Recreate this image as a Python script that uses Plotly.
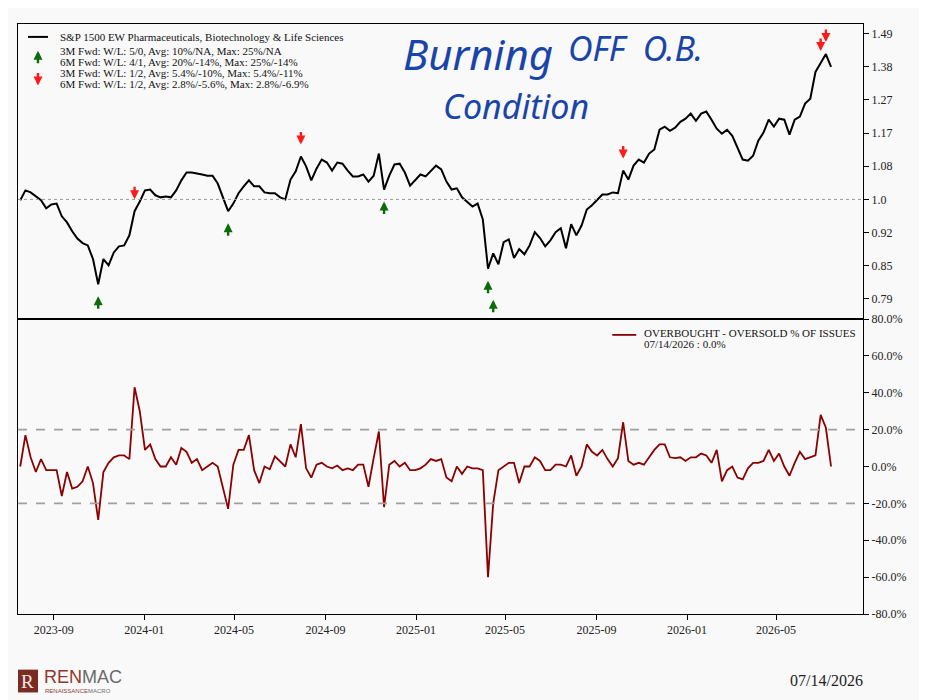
import numpy as np
import pandas as pd
import plotly.graph_objects as go
from plotly.subplots import make_subplots

# ---------------- data (weekly samples) ----------------
END_DATE = "2026-07-14"

price_values = [
    0.998, 1.022, 1.017, 1.007, 0.998, 0.979, 0.988, 0.990, 0.960, 0.946,
    0.926, 0.910, 0.900, 0.895, 0.866, 0.815, 0.866, 0.853, 0.880, 0.893,
    0.895, 0.917, 0.972, 0.995, 1.022, 1.024, 1.010, 1.005, 1.007, 1.005,
    1.022, 1.047, 1.067, 1.067, 1.065, 1.062, 1.059, 1.059, 1.039, 1.007,
    0.972, 0.990, 1.015, 1.032, 1.047, 1.032, 1.032, 1.017, 1.015, 1.015,
    1.005, 1.000, 1.049, 1.070, 1.109, 1.083, 1.047, 1.077, 1.101, 1.093,
    1.072, 1.093, 1.090, 1.072, 1.057, 1.057, 1.062, 1.044, 1.059, 1.117,
    1.024, 1.059, 1.088, 1.090, 1.067, 1.034, 1.047, 1.062, 1.057, 1.072,
    1.085, 1.075, 1.044, 1.024, 1.027, 1.005, 0.995, 0.983, 0.990, 0.953,
    0.846, 0.878, 0.855, 0.902, 0.908, 0.868, 0.887, 0.876, 0.895, 0.924,
    0.911, 0.893, 0.906, 0.924, 0.933, 0.889, 0.942, 0.917, 0.939, 0.976,
    0.986, 1.000, 1.012, 1.012, 1.017, 1.015, 1.072, 1.049, 1.085, 1.101,
    1.093, 1.117, 1.128, 1.183, 1.192, 1.180, 1.189, 1.206, 1.215, 1.230,
    1.209, 1.230, 1.236, 1.212, 1.186, 1.172, 1.183, 1.166, 1.131, 1.101,
    1.098, 1.111, 1.152, 1.175, 1.212, 1.192, 1.215, 1.212, 1.169, 1.212,
    1.221, 1.260, 1.275, 1.360, 1.390, 1.420, 1.377,
]

obos_values = [
    0, 17, 5, -3, 4, -2, -2, -2, -16, -3,
    -12, -11, -8, 0, -9, -29, -3, 2, 5, 6,
    6, 4, 43, 30, 9, 12, 4, 0, 0, 5,
    1, 10, 8, 2, 4, -2, 0, 2, 0, -12,
    -23, 1, 9, 9, 17, -2, -9, 0, -1.5, 5.5,
    3, 0, 12, 5, 23, -1, -6, 1, 2, 0,
    -1, 0.5, -2, -1, -2, 1, 1, -11, 4.5, 19,
    -22, 1, 3, 0, 2, -2, -2, -1, 1, 4,
    3, 4, -6, -8, 0, -4, 0, -1, -1, -2,
    -60, -20, -2, 0, 2, 2, -9, 0, 0, 5,
    3, -2, -2, 1, 1, 0, 6, -5, 0, 12,
    8, 6, 9, 4, 0, 4.5, 24, 3, 1, 2,
    1, 5, 9, 12, 12, 5, 4.5, 5, 3, 5,
    5, 7, 6, 2, 9, -8, -2, 0, -6, -7,
    -1, 2, 2, 3, 9, 3, 7, 0, -5, 2,
    8, 4, 5, 6, 28, 21, 0,
]

buy_dates = ["2023-10-31", "2024-04-23", "2024-11-19", "2025-04-08", "2025-04-15"]
sell_dates = ["2023-12-19", "2024-07-30", "2025-10-07", "2026-06-30", "2026-07-07"]

price_tick_labels = ["0.79", "0.85", "0.92", "1.0", "1.08", "1.17", "1.27", "1.38", "1.49"]
price_tick_steps = [-3, -2, -1, 0, 1, 2, 3, 4, 5]
obos_ticks = [-80, -60, -40, -20, 0, 20, 40, 60, 80]
obos_bands = [20, -20]

series_name = "S&P 1500 EW Pharmaceuticals, Biotechnology & Life Sciences"
obos_name = "OVERBOUGHT - OVERSOLD % OF ISSUES"
up_lines = ["3M Fwd: W/L: 5/0, Avg: 10%/NA, Max: 25%/NA",
            "6M Fwd: W/L: 4/1, Avg: 20%/-14%, Max: 25%/-14%"]
down_lines = ["3M Fwd: W/L: 1/2, Avg: 5.4%/-10%, Max: 5.4%/-11%",
              "6M Fwd: W/L: 1/2, Avg: 2.8%/-5.6%, Max: 2.8%/-6.9%"]

# ---------------- build ----------------
dates = pd.date_range(end=END_DATE, periods=len(price_values), freq="7D")
price = pd.Series(price_values, index=dates)
obos = pd.Series(obos_values, index=dates)

OFF = 8                      # page body margin
W, H = 927, 700
ML, MR, MT, MB = 9, 72, 12, 94
PW, PH = W - ML - MR, H - MT - MB

def px(x, y):
    """screen pixel -> paper coords"""
    return (x - OFF - ML) / PW, (H - MB - (y - OFF)) / PH

FONT = "Liberation Serif"
BG = "#f9f9f9"
DARKRED = "#8b0000"
GREEN = "#0b6b0b"
RED = "#ff1a1a"
ARROW = dict(arrowhead=2, arrowsize=0.75, arrowwidth=2.4, standoff=0, startstandoff=0)

fig = make_subplots(rows=2, cols=1, shared_xaxes=True, vertical_spacing=0,
                    row_heights=[0.5, 0.5])

fig.add_trace(go.Scatter(x=dates, y=price.values, mode="lines",
                         line=dict(color="black", width=2), name=series_name,
                         showlegend=False), row=1, col=1)
fig.add_trace(go.Scatter(x=dates, y=obos.values, mode="lines",
                         line=dict(color=DARKRED, width=1.8), name=obos_name,
                         showlegend=False), row=2, col=1)

annotations = []
# signal arrows
prev = None
for d in buy_dates:
    t = pd.Timestamp(d)
    i = price.index.get_loc(t)
    lvl = price.iloc[max(i - 1, 0):i + 2].min()
    stack = 1 if (prev is not None and (t - prev).days <= 14) else 0
    prev = t
    annotations.append(dict(x=t, y=np.log10(lvl), xref="x", yref="y", text="",
                            showarrow=True, ax=0, ay=14, arrowcolor=GREEN,
                            yshift=-12 - 19 * stack, **ARROW))
for d in sell_dates:
    t = pd.Timestamp(d)
    lvl = price.loc[t]
    annotations.append(dict(x=t, y=np.log10(lvl), xref="x", yref="y", text="",
                            showarrow=True, ax=0, ay=-14, arrowcolor=RED, yshift=12, **ARROW))

# top-left legend
tf = dict(family=FONT, size=11, color="#111111")
shapes = []
x0, y0 = px(27, 33)
x1, _ = px(47, 33)
shapes.append(dict(type="line", xref="paper", yref="paper", x0=x0, x1=x1, y0=y0, y1=y0,
                   line=dict(color="black", width=2)))
tx, _ = px(57, 0)
annotations.append(dict(xref="paper", yref="paper", x=tx, y=px(0, 33)[1], text=series_name,
                        showarrow=False, xanchor="left", yanchor="middle", font=tf))
for k, s in enumerate(up_lines):
    annotations.append(dict(xref="paper", yref="paper", x=tx, y=px(0, 47 + 11 * k)[1], text=s,
                            showarrow=False, xanchor="left", yanchor="middle", font=tf))
for k, s in enumerate(down_lines):
    annotations.append(dict(xref="paper", yref="paper", x=tx, y=px(0, 69.5 + 11 * k)[1], text=s,
                            showarrow=False, xanchor="left", yanchor="middle", font=tf))
ax_, ay_ = px(37, 47)
annotations.append(dict(xref="paper", yref="paper", x=ax_, y=ay_, text="", showarrow=True,
                        ax=0, ay=14, arrowcolor=GREEN, **ARROW))
ax_, ay_ = px(37, 82)
annotations.append(dict(xref="paper", yref="paper", x=ax_, y=ay_, text="", showarrow=True,
                        ax=0, ay=-14, arrowcolor=RED, **ARROW))

# bottom legend
bx0, by0 = px(612, 333)
bx1, _ = px(636, 333)
shapes.append(dict(type="line", xref="paper", yref="paper", x0=bx0, x1=bx1, y0=by0, y1=by0,
                   line=dict(color=DARKRED, width=1.8)))
btx, _ = px(642, 0)
annotations.append(dict(xref="paper", yref="paper", x=btx, y=px(0, 331)[1], text=obos_name,
                        showarrow=False, xanchor="left", yanchor="middle", font=tf))
annotations.append(dict(xref="paper", yref="paper", x=btx, y=px(0, 342)[1],
                        text=f"{dates[-1]:%m/%d/%Y} : {obos.iloc[-1]:.1f}%",
                        showarrow=False, xanchor="left", yanchor="middle", font=tf))

# handwritten note
HW = dict(family="Noto Sans", color="#1a45a8")
annotations.append(dict(xref="paper", yref="paper", x=px(400, 0)[0], y=px(0, 50)[1],
                        text="<i>Burning</i>", showarrow=False, xanchor="left", yanchor="middle",
                        font=dict(size=42, **HW)))
annotations.append(dict(xref="paper", yref="paper", x=px(566, 0)[0], y=px(0, 44)[1],
                        text="<i>OFF  O.B.</i>", showarrow=False, xanchor="left", yanchor="middle",
                        font=dict(size=34, **HW)))
annotations.append(dict(xref="paper", yref="paper", x=px(440, 0)[0], y=px(0, 103)[1],
                        text="<i>Condition</i>", showarrow=False, xanchor="left", yanchor="middle",
                        font=dict(size=34, **HW)))

# footer: logo and date
lx0, ly0 = px(17, 693)
lx1, ly1 = px(37, 670)
shapes.append(dict(type="rect", xref="paper", yref="paper", x0=lx0, x1=lx1, y0=ly0, y1=ly1,
                   fillcolor="#7a2b22", line=dict(width=0)))
annotations.append(dict(xref="paper", yref="paper", x=(lx0 + lx1) / 2, y=(ly0 + ly1) / 2,
                        text="R", showarrow=False, xanchor="center", yanchor="middle",
                        font=dict(family=FONT, size=19, color="#f3e6e4")))
annotations.append(dict(xref="paper", yref="paper", x=px(41, 0)[0], y=px(0, 677)[1],
                        text="<span style='color:#8e3a2e'>REN</span><span style='color:#6b6b6b'>MAC</span>",
                        showarrow=False, xanchor="left", yanchor="middle",
                        font=dict(family="Liberation Sans Narrow, Liberation Sans", size=18)))
annotations.append(dict(xref="paper", yref="paper", x=px(42, 0)[0], y=px(0, 692)[1],
                        text="<span style='color:#8e3a2e'>RENAISSANCE</span><span style='color:#6b6b6b'>MACRO</span>",
                        showarrow=False, xanchor="left", yanchor="middle",
                        font=dict(family="Liberation Sans", size=6)))
annotations.append(dict(xref="paper", yref="paper", x=px(865, 0)[0], y=px(0, 681)[1],
                        text=f"{dates[-1]:%m/%d/%Y}", showarrow=False, xanchor="right",
                        yanchor="middle", font=dict(family=FONT, size=16, color="#222222")))

tickfont = dict(family=FONT, size=12, color="#222222")
price_tickvals = [float(np.exp(0.08 * k)) for k in price_tick_steps]

fig.update_layout(
    width=W, height=H, margin=dict(l=ML, r=MR, t=MT, b=MB),
    paper_bgcolor=BG, plot_bgcolor=BG, showlegend=False,
    annotations=annotations, shapes=shapes,
)

# reference lines (added after the layout so they are kept)
fig.add_hline(y=1.0, line=dict(color="#999999", width=1, dash="dot"), row=1, col=1)
for b in obos_bands:
    fig.add_hline(y=b, line=dict(color="#a0a0a0", width=1.6, dash="dash"), row=2, col=1)

common_x = dict(showgrid=False, zeroline=False, showline=True, linecolor="black",
                linewidth=1, mirror=True, range=["2023-07-15", "2026-08-26"])
fig.update_xaxes(**common_x, row=1, col=1, ticks="", showticklabels=False)
fig.update_xaxes(**common_x, row=2, col=1, ticks="outside", ticklen=5, tickcolor="black",
                 tick0="2023-09-01", dtick="M4", tickformat="%Y-%m", tickfont=tickfont)
fig.update_yaxes(row=1, col=1, type="log", side="right", range=[-0.1253, 0.1838],
                 tickvals=price_tickvals, ticktext=price_tick_labels, ticks="outside",
                 ticklen=5, tickcolor="black", showgrid=False, zeroline=False, showline=True,
                 linecolor="black", linewidth=1, mirror=True, tickfont=tickfont)
fig.update_yaxes(row=2, col=1, side="right", range=[-80, 80], tickvals=obos_ticks,
                 ticktext=[f"{v:.1f}%" for v in obos_ticks], ticks="outside", ticklen=5,
                 tickcolor="black", showgrid=False, zeroline=False, showline=True,
                 linecolor="black", linewidth=1, mirror=True, tickfont=tickfont)

fig.write_html("out.html")
